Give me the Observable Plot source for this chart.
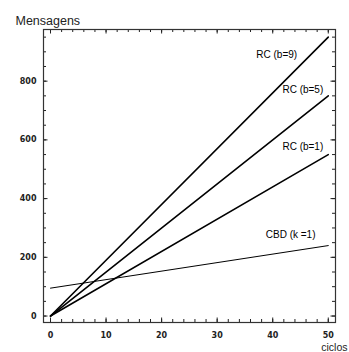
<!DOCTYPE html>
<html><head><meta charset="utf-8">
<script src="https://cdn.jsdelivr.net/npm/d3@7"></script>
<script src="https://cdn.jsdelivr.net/npm/@observablehq/plot@0.6"></script>
<style>
body{margin:0;background:#fff;}
#chart svg{display:block;}
</style>
</head><body><div id="chart"></div>
<script>
const series = ["RC (b=9)", "RC (b=5)", "RC (b=1)", "CBD (k =1)"];
const ciclos = [0, 50];
const rcB9 = [0, 950];
const rcB5 = [0, 750];
const rcB1 = [0, 550];
const cbdK1 = [95, 240];
const labelX = [44.4, 49.1, 49.1, 47.7];
const labelY = [889, 770, 577, 276];
const xMajor = [0, 10, 20, 30, 40, 50];
const xMinor = d3.range(0, 51, 2);
const yMajor = [0, 200, 400, 600, 800];
const yMinor = d3.range(0, 951, 50);

const allVals = [rcB9, rcB5, rcB1, cbdK1];
const data = [];
series.forEach((s, i) => ciclos.forEach((c, j) => data.push({s, x: c, y: allVals[i][j]})));
const rc = data.filter(d => d.s !== series[3]);
const cbd = data.filter(d => d.s === series[3]);
const labels = series.map((s, i) => ({s, x: labelX[i], y: labelY[i]}));

const W = 349, H = 352, mL = 43, mR = 14, mT = 29, mB = 30;
const fw = W - mL - mR, fh = H - mT - mB;
const fontTick = {fontFamily: "DejaVu Sans", fontSize: 8, fontWeight: 600, letterSpacing: "1px", fill: "#222"};
const tkc = {stroke: "#222", strokeWidth: 1};
const mn = 3, mj = 4.5;
const plot = Plot.plot({
  width: W, height: H,
  marginLeft: mL, marginRight: mR, marginTop: mT, marginBottom: mB,
  x: {domain: [-1.26, 51.3]},
  y: {domain: [-22, 976]},
  style: {fontFamily: "Liberation Sans, Arial, sans-serif", background: "#fff", color: "#000"},
  marks: [
    Plot.line(rc, {x: "x", y: "y", z: "s", stroke: "#000", strokeWidth: 1.6}),
    Plot.line(cbd, {x: "x", y: "y", stroke: "#000", strokeWidth: 1}),
    Plot.text(labels, {x: "x", y: "y", text: "s", textAnchor: "end", fontSize: 10, fill: "#000"}),
    // inward ticks: bottom / top
    Plot.tickX(xMinor, {x: d => d, insetTop: fh - mn, ...tkc}),
    Plot.tickX(xMajor, {x: d => d, insetTop: fh - mj, ...tkc}),
    Plot.tickX(xMinor, {x: d => d, insetBottom: fh - mn, ...tkc}),
    Plot.tickX(xMajor, {x: d => d, insetBottom: fh - mj, ...tkc}),
    // inward ticks: left / right
    Plot.tickY(yMinor, {y: d => d, insetRight: fw - mn, ...tkc}),
    Plot.tickY(yMajor, {y: d => d, insetRight: fw - mj, ...tkc}),
    Plot.tickY(yMinor, {y: d => d, insetLeft: fw - mn, ...tkc}),
    Plot.tickY(yMajor, {y: d => d, insetLeft: fw - mj, ...tkc}),
    Plot.axisX({anchor: "bottom", ticks: xMajor, tickSize: 0, tickPadding: 10, label: null, ...fontTick}),
    Plot.axisY({anchor: "left", ticks: yMajor, tickSize: 0, tickPadding: 7, label: null, ...fontTick}),
    Plot.frame({stroke: "#333", strokeWidth: 1.2}),
    Plot.text(["Mensagens"], {frameAnchor: "top-left", dx: -28, dy: -13, fontSize: 12.5, letterSpacing: "0.6px", textAnchor: "start", fill: "#222"}),
    Plot.text(["ciclos"], {frameAnchor: "bottom-right", dx: 12, dy: 28, fontSize: 10.5, textAnchor: "end", fill: "#222"})
  ]
});
document.getElementById("chart").append(plot);
</script>
</body></html>
